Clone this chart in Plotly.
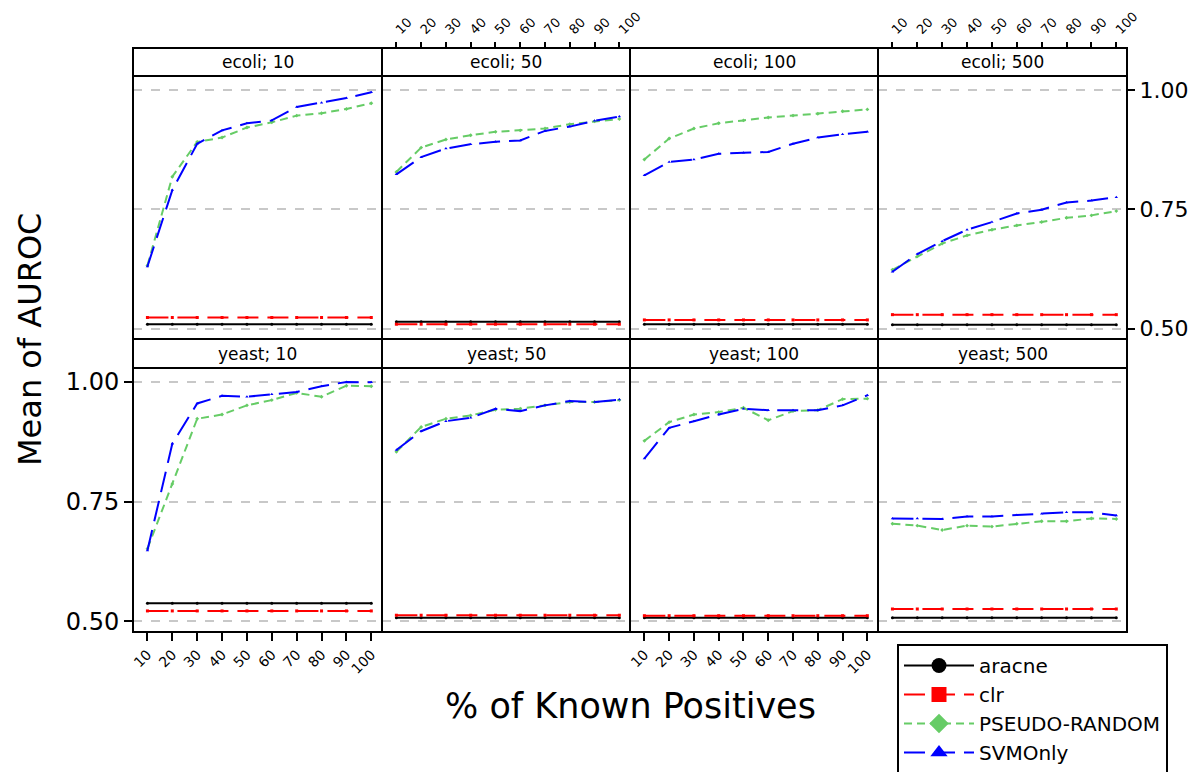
import plotly.graph_objects as go

# ---------------- data ----------------
pct = [10, 20, 30, 40, 50, 60, 70, 80, 90, 100]
tick_labels = ["10", "20", "30", "40", "50", "60", "70", "80", "90", "100"]
series_names = ["aracne", "clr", "PSEUDO-RANDOM", "SVMOnly"]
panel_titles = ["ecoli; 10", "ecoli; 50", "ecoli; 100", "ecoli; 500",
                "yeast; 10", "yeast; 50", "yeast; 100", "yeast; 500"]

# ecoli
aracne_ecoli_10 = [0.509, 0.509, 0.509, 0.509, 0.509, 0.509, 0.509, 0.509, 0.509, 0.509]
clr_ecoli_10 = [0.523, 0.523, 0.523, 0.523, 0.523, 0.523, 0.523, 0.523, 0.523, 0.523]
pseudo_ecoli_10 = [0.632, 0.818, 0.891, 0.900, 0.921, 0.932, 0.946, 0.951, 0.960, 0.972]
svm_ecoli_10 = [0.630, 0.790, 0.887, 0.915, 0.930, 0.936, 0.964, 0.973, 0.983, 0.995]

aracne_ecoli_50 = [0.514, 0.514, 0.514, 0.514, 0.514, 0.514, 0.514, 0.514, 0.514, 0.514]
clr_ecoli_50 = [0.509, 0.509, 0.509, 0.509, 0.509, 0.509, 0.509, 0.509, 0.509, 0.509]
pseudo_ecoli_50 = [0.828, 0.879, 0.896, 0.905, 0.912, 0.915, 0.919, 0.928, 0.934, 0.939]
svm_ecoli_50 = [0.823, 0.859, 0.877, 0.886, 0.891, 0.894, 0.914, 0.923, 0.935, 0.944]

aracne_ecoli_100 = [0.509, 0.509, 0.509, 0.509, 0.509, 0.509, 0.509, 0.509, 0.509, 0.509]
clr_ecoli_100 = [0.518, 0.518, 0.518, 0.518, 0.518, 0.518, 0.518, 0.518, 0.518, 0.518]
pseudo_ecoli_100 = [0.854, 0.898, 0.919, 0.930, 0.936, 0.942, 0.946, 0.950, 0.955, 0.959]
svm_ecoli_100 = [0.821, 0.849, 0.854, 0.866, 0.868, 0.870, 0.887, 0.900, 0.907, 0.912]

aracne_ecoli_500 = [0.508, 0.508, 0.508, 0.508, 0.508, 0.508, 0.508, 0.508, 0.508, 0.508]
clr_ecoli_500 = [0.529, 0.529, 0.529, 0.529, 0.529, 0.529, 0.529, 0.529, 0.529, 0.529]
pseudo_ecoli_500 = [0.623, 0.651, 0.678, 0.695, 0.707, 0.716, 0.723, 0.732, 0.737, 0.746]
svm_ecoli_500 = [0.619, 0.656, 0.683, 0.707, 0.723, 0.741, 0.749, 0.764, 0.768, 0.775]

# yeast
aracne_yeast_10 = [0.538, 0.538, 0.538, 0.538, 0.538, 0.538, 0.538, 0.538, 0.538, 0.538]
clr_yeast_10 = [0.522, 0.522, 0.522, 0.522, 0.522, 0.522, 0.522, 0.522, 0.522, 0.522]
pseudo_yeast_10 = [0.652, 0.787, 0.923, 0.932, 0.951, 0.962, 0.977, 0.969, 0.992, 0.991]
svm_yeast_10 = [0.648, 0.871, 0.955, 0.971, 0.969, 0.974, 0.979, 0.991, 1.000, 0.999]

aracne_yeast_50 = [0.508, 0.508, 0.508, 0.508, 0.508, 0.508, 0.508, 0.508, 0.508, 0.508]
clr_yeast_50 = [0.513, 0.513, 0.513, 0.513, 0.513, 0.513, 0.513, 0.513, 0.513, 0.513]
pseudo_yeast_50 = [0.854, 0.906, 0.923, 0.930, 0.942, 0.944, 0.951, 0.958, 0.958, 0.962]
svm_yeast_50 = [0.858, 0.897, 0.918, 0.925, 0.944, 0.939, 0.951, 0.960, 0.958, 0.963]

aracne_yeast_100 = [0.508, 0.508, 0.508, 0.508, 0.508, 0.508, 0.508, 0.508, 0.508, 0.508]
clr_yeast_100 = [0.512, 0.512, 0.512, 0.512, 0.512, 0.512, 0.512, 0.512, 0.512, 0.512]
pseudo_yeast_100 = [0.877, 0.916, 0.932, 0.937, 0.946, 0.920, 0.939, 0.941, 0.964, 0.965]
svm_yeast_100 = [0.840, 0.904, 0.918, 0.932, 0.944, 0.941, 0.941, 0.941, 0.951, 0.972]

aracne_yeast_500 = [0.508, 0.508, 0.508, 0.508, 0.508, 0.508, 0.508, 0.508, 0.508, 0.508]
clr_yeast_500 = [0.526, 0.526, 0.526, 0.526, 0.526, 0.526, 0.526, 0.526, 0.526, 0.526]
pseudo_yeast_500 = [0.704, 0.700, 0.691, 0.700, 0.698, 0.704, 0.709, 0.709, 0.715, 0.714]
svm_yeast_500 = [0.715, 0.715, 0.714, 0.719, 0.719, 0.722, 0.725, 0.728, 0.728, 0.721]

panels = [
    [aracne_ecoli_10, clr_ecoli_10, pseudo_ecoli_10, svm_ecoli_10],
    [aracne_ecoli_50, clr_ecoli_50, pseudo_ecoli_50, svm_ecoli_50],
    [aracne_ecoli_100, clr_ecoli_100, pseudo_ecoli_100, svm_ecoli_100],
    [aracne_ecoli_500, clr_ecoli_500, pseudo_ecoli_500, svm_ecoli_500],
    [aracne_yeast_10, clr_yeast_10, pseudo_yeast_10, svm_yeast_10],
    [aracne_yeast_50, clr_yeast_50, pseudo_yeast_50, svm_yeast_50],
    [aracne_yeast_100, clr_yeast_100, pseudo_yeast_100, svm_yeast_100],
    [aracne_yeast_500, clr_yeast_500, pseudo_yeast_500, svm_yeast_500],
]
y_ticks = [0.50, 0.75, 1.00]
y_tick_labels = ["0.50", "0.75", "1.00"]

# ---------------- styles ----------------
OFF = 8  # default page body margin
W, H = 1196 - OFF, 772 - OFF
FONT = "DejaVu Sans"
colors = ["#000000", "#ff0000", "#66cc66", "#0000ff"]
dashes = ["solid", "21px,9px", "8px,5px", "21px,9px"]
symbols = ["circle", "square", "diamond", "triangle-up"]

col_edges = [133, 382, 630, 878, 1127]
row_strip = [(48, 76), (339, 368)]
row_plot = [(76, 339), (368, 632)]


def px(x):
    return (x - OFF) / W


def py(y):
    return 1 - (y - OFF) / H


fig = go.Figure()
layout = dict(
    width=W, height=H,
    margin=dict(l=0, r=0, t=0, b=0, autoexpand=False),
    paper_bgcolor="white", plot_bgcolor="white",
    font=dict(family=FONT, color="black"),
    showlegend=True,
)
shapes = []
annotations = []

for p in range(8):
    r, c = divmod(p, 4)
    n = p + 1
    xa = "x" if n == 1 else f"x{n}"
    ya = "y" if n == 1 else f"y{n}"
    for s in range(4):
        fig.add_trace(go.Scatter(
            x=pct, y=panels[p][s], xaxis=xa, yaxis=ya, mode="lines+markers",
            line=dict(color=colors[s], width=2, dash=dashes[s]),
            marker=dict(symbol=symbols[s], size=3, color=colors[s]),
            name=series_names[s], showlegend=False, hoverinfo="x+y+name",
        ))

    x0, x1 = col_edges[c], col_edges[c + 1]
    yt, yb = row_plot[r]
    xkey = "xaxis" if n == 1 else f"xaxis{n}"
    ykey = "yaxis" if n == 1 else f"yaxis{n}"

    xax = dict(domain=[px(x0), px(x1)], anchor=ya, range=[4.2, 104.3],
               showgrid=False, zeroline=False, showline=False,
               tickvals=pct, ticktext=tick_labels, tickangle=-45,
               tickfont=dict(size=14, family=FONT))
    if r == 1 and c in (0, 2):
        xax.update(side="bottom", ticks="outside", ticklen=8, tickwidth=2,
                   tickcolor="black", showticklabels=True)
    elif r == 0 and c in (1, 3):
        xax.update(side="top", anchor="free", position=py(row_strip[0][0]),
                   ticks="outside", ticklen=6, tickwidth=2,
                   tickcolor="black", showticklabels=True,
                   tickfont=dict(size=13, family=FONT))
    else:
        xax.update(ticks="", showticklabels=False)
    layout[xkey] = xax

    yax = dict(domain=[py(yb), py(yt)], anchor=xa, range=[0.478, 1.029],
               tickvals=y_ticks, ticktext=y_tick_labels,
               showgrid=True, gridcolor="#c8c8c8", gridwidth=2, griddash="dash",
               zeroline=False, showline=False,
               tickfont=dict(size=24, family=FONT))
    if r == 0 and c == 3:
        yax.update(side="right", ticks="outside", ticklen=7, tickwidth=2,
                   tickcolor="black", showticklabels=True,
                   tickfont=dict(size=22, family=FONT))
    elif r == 1 and c == 0:
        yax.update(side="left", ticks="outside", ticklen=8, tickwidth=2,
                   tickcolor="black", showticklabels=True)
    else:
        yax.update(ticks="", showticklabels=False)
    layout[ykey] = yax

    # panel frame
    shapes.append(dict(type="rect", xref="paper", yref="paper",
                       x0=px(x0), x1=px(x1), y0=py(yb), y1=py(yt),
                       line=dict(color="black", width=2), layer="above"))
    # strip
    st, sb = row_strip[r]
    shapes.append(dict(type="rect", xref="paper", yref="paper",
                       x0=px(x0), x1=px(x1), y0=py(sb), y1=py(st),
                       line=dict(color="black", width=2), fillcolor="white",
                       layer="above"))
    annotations.append(dict(text=panel_titles[p], xref="paper", yref="paper",
                            x=px((x0 + x1) / 2), y=py((st + sb) / 2),
                            xanchor="center", yanchor="middle", showarrow=False,
                            font=dict(size=17, family=FONT)))

annotations.append(dict(text="Mean of AUROC", xref="paper", yref="paper",
                        x=px(30), y=py(340), textangle=-90, showarrow=False,
                        xanchor="center", yanchor="middle",
                        font=dict(size=32, family=FONT)))
annotations.append(dict(text="% of Known Positives", xref="paper", yref="paper",
                        x=px(630), y=py(706), showarrow=False,
                        xanchor="center", yanchor="middle",
                        font=dict(size=35, family=FONT)))

# legend-only traces with large markers
for s in range(4):
    fig.add_trace(go.Scatter(
        x=[None], y=[None], mode="lines+markers", name=series_names[s],
        line=dict(color=colors[s], width=2, dash=dashes[s]),
        marker=dict(symbol=symbols[s], size=15, color=colors[s]),
        showlegend=True,
    ))

layout["legend"] = dict(x=px(897), y=py(644), xanchor="left", yanchor="top",
                        bordercolor="black", borderwidth=2, bgcolor="white",
                        font=dict(size=20, family=FONT), itemwidth=70,
                        tracegroupgap=0)
layout["shapes"] = shapes
layout["annotations"] = annotations
fig.update_layout(**layout)

fig.write_html("out.html")
